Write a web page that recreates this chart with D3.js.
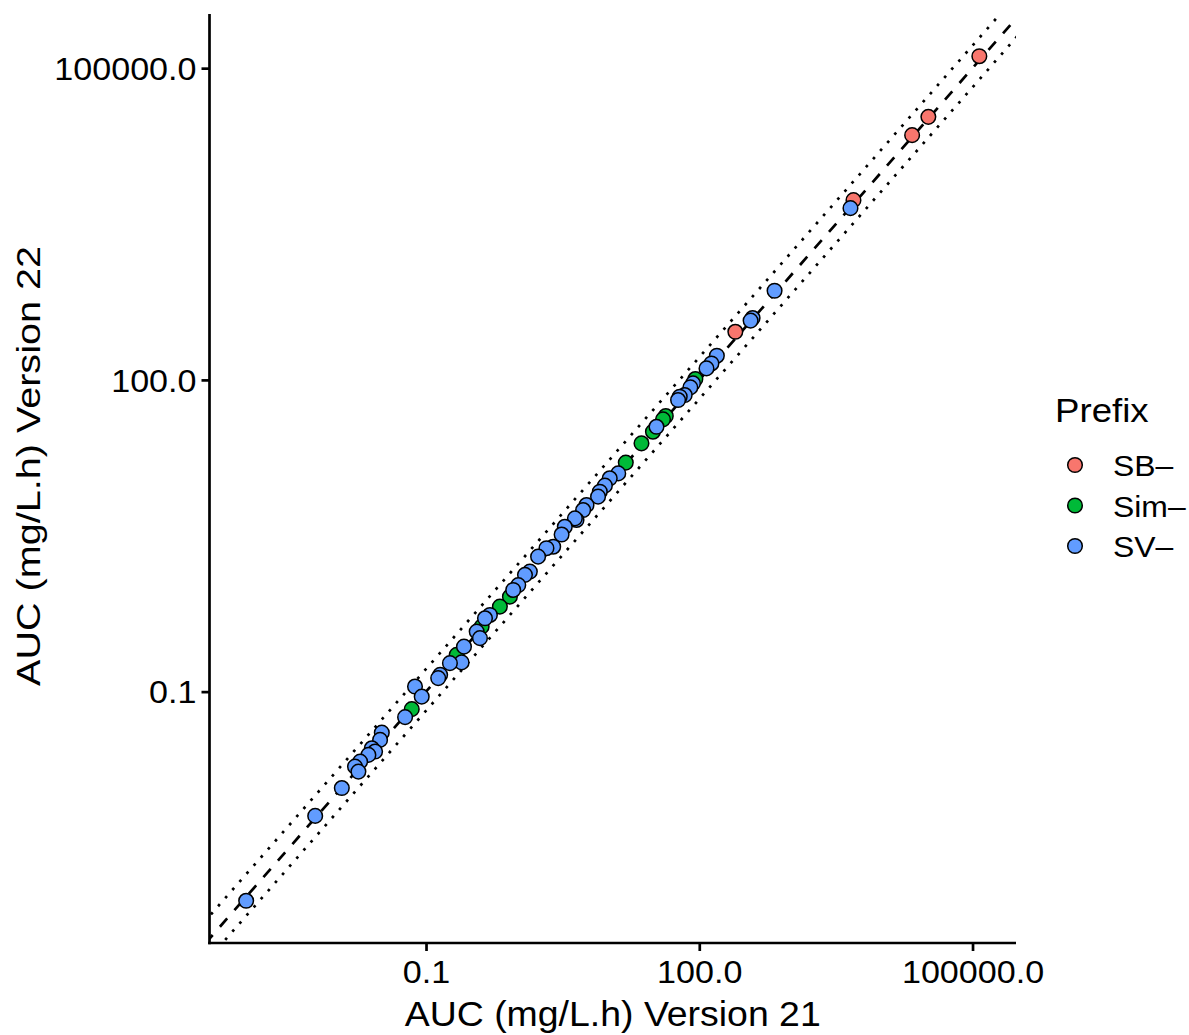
<!DOCTYPE html>
<html>
<head>
<meta charset="utf-8">
<script src="https://cdn.jsdelivr.net/npm/d3@7"></script>
<style>
  html, body { margin: 0; padding: 0; background: #ffffff; }
  svg { display: block; }
  text { font-family: "Liberation Sans", Arial, Helvetica, sans-serif; fill: #000; }
</style>
</head>
<body>
<svg id="chart" width="1189" height="1035"></svg>
<script>
// ---------------- data ----------------
const categories = ["SB–", "Sim–", "SV–"];
const categoryColors = ["#F8766D", "#00BA38", "#619CFF"];

// AUC (mg/L.h): version 21 (x) and version 22 (y)
const sbV21 = [118800, 32740, 21720, 4930, 248.9];
const sbV22 = [130300, 34020, 22680, 5370, 290.4];

const simV21 = [90.6, 42.9, 40.0, 31.0, 23.2, 15.6, 0.834, 0.647, 0.408, 0.217, 0.0697];
const simV22 = [101.9, 44.9, 41.7, 31.7, 24.5, 16.0, 0.820, 0.658, 0.422, 0.226, 0.0678];

const svV21 = [4571, 671, 385, 366, 156, 136, 120, 85.3, 79.8, 69.2, 61.0, 58.5, 33.9,
  12.9, 10.4, 9.2, 8.09, 7.74, 5.78, 5.31, 4.49, 4.31, 3.34, 3.08, 2.49, 2.10, 1.70,
  1.38, 1.22, 1.03, 0.906, 0.503, 0.444, 0.360, 0.391, 0.261, 0.246, 0.183, 0.143,
  0.136, 0.0757, 0.0897, 0.0589, 0.0327, 0.0313, 0.0254, 0.0276, 0.0233, 0.0189,
  0.0166, 0.0181, 0.0119, 0.00607, 0.00106];
const svV22 = [4498, 721, 394, 372, 171, 144, 129, 92.7, 84.7, 71.5, 68.9, 64.0, 35.4,
  12.6, 11.3, 9.6, 8.40, 7.52, 6.25, 5.59, 4.49, 4.65, 3.86, 3.25, 2.48, 2.40, 1.99,
  1.43, 1.33, 1.06, 0.951, 0.547, 0.508, 0.378, 0.327, 0.271, 0.191, 0.188, 0.145,
  0.135, 0.112, 0.0895, 0.0568, 0.0403, 0.0343, 0.0285, 0.0265, 0.0246, 0.0212,
  0.0190, 0.0170, 0.0118, 0.00637, 0.000971];

const tickValues = [0.1, 100, 100000];
const tickLabels = ["0.1", "100.0", "100000.0"];

// reference lines: y = ratio * x
const refRatios = [1, 1.65, 0.655];

const xTitle = "AUC (mg/L.h) Version 21";
const yTitle = "AUC (mg/L.h) Version 22";
const legendTitle = "Prefix";

// ---------------- build ----------------
const seriesX = [sbV21, simV21, svV21];
const seriesY = [sbV22, simV22, svV22];
const points = [];
categories.forEach((c, ci) => {
  seriesX[ci].forEach((v, i) => points.push({ cat: c, ci, x: v, y: seriesY[ci][i] }));
});

const panel = { left: 209.5, right: 1016, top: 14, bottom: 943 };

function expandedLogDomain(vals) {
  const lo = Math.log10(d3.min(vals)), hi = Math.log10(d3.max(vals));
  const pad = (hi - lo) * 0.05;
  return [Math.pow(10, lo - pad), Math.pow(10, hi + pad)];
}

// widen glyphs horizontally (along the text direction)
function stretch(sel, f) {
  sel.each(function () {
    const L = this.getComputedTextLength();
    d3.select(this).attr("textLength", L * f).attr("lengthAdjust", "spacingAndGlyphs");
  });
}

const x = d3.scaleLog()
  .domain(expandedLogDomain(points.map(d => d.x)))
  .range([panel.left, panel.right]);
const y = d3.scaleLog()
  .domain(expandedLogDomain(points.map(d => d.y)))
  .range([panel.bottom, panel.top]);

const color = d3.scaleOrdinal().domain(categories).range(categoryColors);

const svg = d3.select("#chart");

svg.append("defs").append("clipPath").attr("id", "panelClip")
  .append("rect")
  .attr("x", panel.left).attr("y", panel.top)
  .attr("width", panel.right - panel.left)
  .attr("height", panel.bottom - panel.top);

// reference lines
const refG = svg.append("g").attr("clip-path", "url(#panelClip)");
const xd = x.domain();
const xs = [xd[0] / 10, xd[1] * 10];
refRatios.forEach((r, i) => {
  refG.append("path")
    .datum(xs.map(v => [v, v * r]))
    .attr("d", d3.line().x(d => x(d[0])).y(d => y(d[1])))
    .attr("fill", "none")
    .attr("stroke", "#000")
    .attr("stroke-width", 2.7)
    .attr("stroke-dasharray", i === 0 ? "11,11" : "2.7,8.1");
});

// points
svg.append("g").attr("clip-path", "url(#panelClip)")
  .selectAll("circle")
  .data(points)
  .join("circle")
  .attr("cx", d => x(d.x))
  .attr("cy", d => y(d.y))
  .attr("r", 7.3)
  .attr("fill", d => color(d.cat))
  .attr("stroke", "#000")
  .attr("stroke-width", 1.5);

// axes
const fmt = v => tickLabels[tickValues.indexOf(v)];
const xAxis = svg.append("g")
  .attr("transform", `translate(0,${panel.bottom})`)
  .call(d3.axisBottom(x).tickValues(tickValues).tickFormat(fmt).tickSizeOuter(0).tickSize(8).tickPadding(6));
const yAxis = svg.append("g")
  .attr("transform", `translate(${panel.left},0)`)
  .call(d3.axisLeft(y).tickValues(tickValues).tickFormat(fmt).tickSizeOuter(0).tickSize(8).tickPadding(5));

[xAxis, yAxis].forEach(g => {
  g.select(".domain").attr("stroke", "#000").attr("stroke-width", 2.7);
  g.selectAll(".tick line").attr("stroke", "#000").attr("stroke-width", 2.7);
  g.selectAll(".tick text")
    .attr("font-family", "Liberation Sans, Arial, sans-serif")
    .attr("font-size", 31)
    .attr("fill", "#000");
});
xAxis.select(".domain").attr("d", `M${panel.left - 1.35},0H${panel.right}`);
yAxis.select(".domain").attr("d", `M0,${panel.top}V${panel.bottom + 1.35}`);

xAxis.selectAll(".tick text").attr("dy", null).attr("y", 40);
yAxis.selectAll(".tick text").attr("dy", "0.36em");
stretch(xAxis.selectAll(".tick text"), 1.1);
stretch(yAxis.selectAll(".tick text"), 1.1);

// axis titles
const xt = svg.append("text")
  .attr("x", (panel.left + panel.right) / 2)
  .attr("y", 1026)
  .attr("text-anchor", "middle")
  .attr("font-size", 34.5)
  .text(xTitle);
xt.attr("textLength", 416).attr("lengthAdjust", "spacingAndGlyphs");

const yt = svg.append("text")
  .attr("transform", `translate(40,466) rotate(-90)`)
  .attr("text-anchor", "middle")
  .attr("font-size", 34)
  .text(yTitle);
yt.attr("textLength", 440).attr("lengthAdjust", "spacingAndGlyphs");

// legend
const lg = svg.append("g");
const lt = lg.append("text")
  .attr("x", 1055).attr("y", 422)
  .attr("font-size", 33)
  .text(legendTitle);
stretch(lt, 1.11);

const items = lg.selectAll("g.item")
  .data(categories)
  .join("g")
  .attr("class", "item")
  .attr("transform", (d, i) => `translate(0,${465 + i * 40.5})`);
items.append("circle")
  .attr("cx", 1075).attr("cy", 0).attr("r", 7.3)
  .attr("fill", d => color(d))
  .attr("stroke", "#000").attr("stroke-width", 1.5);
const itemText = items.append("text")
  .attr("x", 1113).attr("y", 11)
  .attr("font-size", 29)
  .text(d => d);
stretch(itemText, 1.1);
</script>
</body>
</html>
